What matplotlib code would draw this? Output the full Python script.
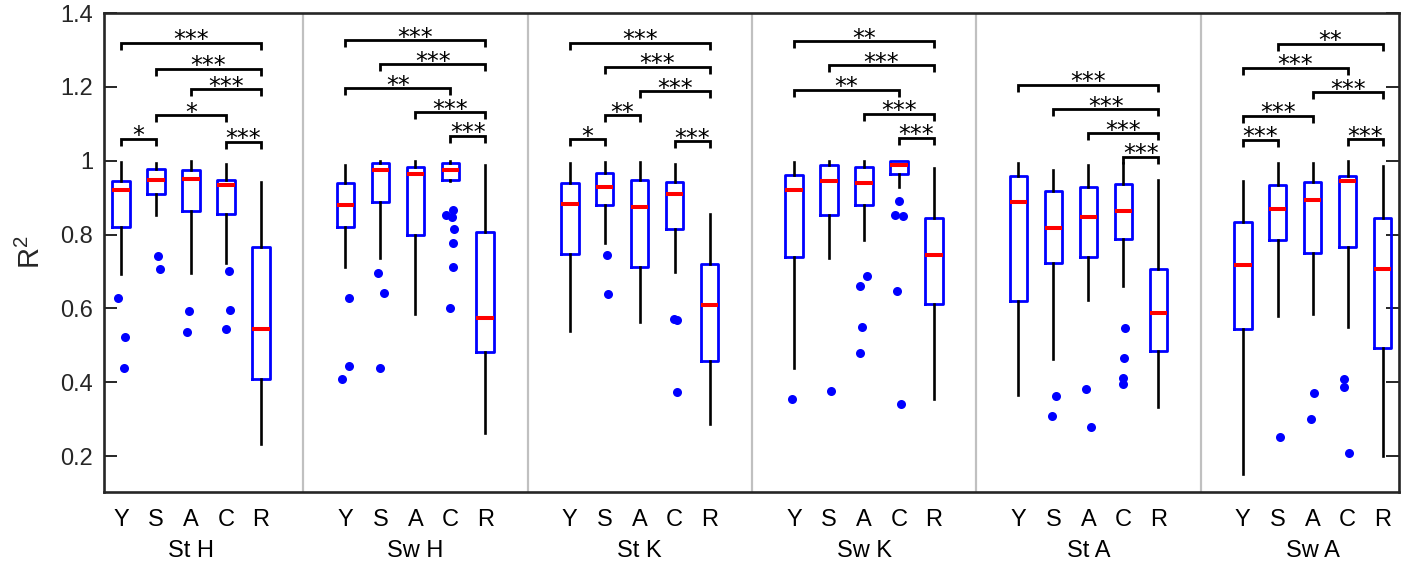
import matplotlib
matplotlib.use('Agg')
import matplotlib.pyplot as plt
from matplotlib.ticker import FixedLocator, FuncFormatter
from matplotlib.transforms import blended_transform_factory

plt.rcParams['font.family'] = ['Liberation Sans', 'DejaVu Sans']
plt.rcParams['mathtext.fontset'] = 'custom'
plt.rcParams['mathtext.rm'] = 'Liberation Sans'
plt.rcParams['mathtext.it'] = 'Liberation Sans'

groups = ['St H', 'Sw H', 'St K', 'Sw K', 'St A', 'Sw A']
conditions = ['Y', 'S', 'A', 'C', 'R']

# box statistics per group, order Y, S, A, C, R
whisker_hi = [
    [0.996, 0.994, 0.998, 0.990, 0.942],
    [0.989, 1.000, 1.000, 1.000, 0.989],
    [0.993, 0.996, 0.996, 0.990, 0.857],
    [0.996, 1.000, 1.000, 1.000, 0.979],
    [0.995, 0.975, 0.988, 0.995, 0.948],
    [0.945, 0.994, 0.994, 1.000, 0.986],
]
q3 = [
    [0.946, 0.977, 0.976, 0.948, 0.767],
    [0.940, 0.994, 0.983, 0.995, 0.806],
    [0.939, 0.967, 0.949, 0.942, 0.720],
    [0.961, 0.989, 0.983, 0.998, 0.845],
    [0.958, 0.918, 0.930, 0.938, 0.708],
    [0.833, 0.934, 0.943, 0.959, 0.845],
]
median = [
    [0.921, 0.948, 0.951, 0.933, 0.544],
    [0.881, 0.974, 0.964, 0.974, 0.575],
    [0.883, 0.930, 0.874, 0.910, 0.609],
    [0.920, 0.946, 0.941, 0.988, 0.744],
    [0.889, 0.819, 0.848, 0.864, 0.588],
    [0.719, 0.870, 0.893, 0.944, 0.707],
]
q1 = [
    [0.820, 0.910, 0.863, 0.856, 0.410],
    [0.820, 0.888, 0.798, 0.948, 0.481],
    [0.748, 0.881, 0.713, 0.816, 0.457],
    [0.738, 0.852, 0.879, 0.963, 0.613],
    [0.619, 0.724, 0.738, 0.789, 0.484],
    [0.545, 0.784, 0.750, 0.767, 0.494],
]
whisker_lo = [
    [0.694, 0.854, 0.697, 0.722, 0.234],
    [0.713, 0.736, 0.584, 0.944, 0.262],
    [0.538, 0.777, 0.563, 0.700, 0.288],
    [0.440, 0.737, 0.784, 0.930, 0.356],
    [0.365, 0.463, 0.624, 0.661, 0.332],
    [0.153, 0.579, 0.585, 0.551, 0.201],
]
outliers = [
    [[0.629, 0.523, 0.440], [0.742, 0.706], [0.593, 0.537], [0.702, 0.597, 0.545], []],
    [[0.627, 0.445, 0.408], [0.695, 0.643, 0.440], [], [0.867, 0.853, 0.847, 0.816, 0.777, 0.713, 0.602], []],
    [[], [0.745, 0.640], [], [0.572, 0.568, 0.375], []],
    [[0.354], [0.377], [0.687, 0.661, 0.550, 0.479], [0.892, 0.854, 0.849, 0.648, 0.341], []],
    [[], [0.364, 0.310], [0.383, 0.278], [0.548, 0.465, 0.411, 0.395], []],
    [[], [0.253], [0.372, 0.300], [0.408, 0.386, 0.208], []],
]
# small horizontal jitter of outliers (in box-spacing units)
outlier_jitter = [
    [[-0.09, 0.11, 0.09], [0.06, 0.11], [-0.06, -0.11], [0.09, 0.11, 0.0], []],
    [[0.09, 0.11, -0.11], [-0.08, 0.09, 0.0], [], [0.09, -0.12, 0.05, 0.11, 0.08, 0.09, -0.02], []],
    [[], [0.06, 0.09], [], [-0.03, 0.06, 0.06], []],
    [[-0.06], [0.06], [0.09, -0.11, -0.05, -0.12], [0.0, -0.12, 0.12, -0.05, 0.05], []],
    [[], [0.07, -0.03], [-0.08, 0.08], [0.06, 0.03, -0.02, 0.0], []],
    [[], [0.06], [0.04, -0.06], [-0.09, -0.09, 0.03], []],
]
# significance brackets: (from, to, level, label)
brackets = [
    [(0, 4, 1.319, '***'), (1, 4, 1.249, '***'), (2, 4, 1.193, '***'),
     (1, 3, 1.124, '*'), (0, 1, 1.060, '*'), (3, 4, 1.052, '***')],
    [(0, 4, 1.326, '***'), (1, 4, 1.262, '***'), (0, 3, 1.197, '**'),
     (2, 4, 1.131, '***'), (3, 4, 1.068, '***')],
    [(0, 4, 1.320, '***'), (1, 4, 1.255, '***'), (2, 4, 1.189, '***'),
     (1, 2, 1.124, '**'), (0, 1, 1.059, '*'), (3, 4, 1.053, '***')],
    [(0, 4, 1.324, '**'), (1, 4, 1.258, '***'), (0, 3, 1.192, '**'),
     (2, 4, 1.127, '***'), (3, 4, 1.062, '***')],
    [(0, 4, 1.206, '***'), (1, 4, 1.140, '***'), (2, 4, 1.075, '***'),
     (3, 4, 1.011, '***')],
    [(1, 4, 1.317, '**'), (0, 3, 1.252, '***'), (2, 4, 1.186, '***'),
     (0, 2, 1.122, '***'), (0, 1, 1.057, '***'), (3, 4, 1.059, '***')],
]
yticks = [0.2, 0.4, 0.6, 0.8, 1.0, 1.2, 1.4]

GROUP_STEP = 6.42
dark = '#262626'

fig = plt.figure(figsize=(14.13, 5.63), dpi=100)
ax = fig.add_axes([104 / 1413, 71 / 563, 1295 / 1413, 479 / 563])

positions = []
stats = []
for g in range(len(groups)):
    for k in range(len(conditions)):
        positions.append(g * GROUP_STEP + k)
        stats.append(dict(med=median[g][k], q1=q1[g][k], q3=q3[g][k],
                          whislo=whisker_lo[g][k], whishi=whisker_hi[g][k],
                          fliers=[]))

ax.bxp(stats, positions=positions, widths=0.5, showcaps=False,
       showfliers=False, patch_artist=False,
       boxprops=dict(color='#0000ff', linewidth=2.0),
       whiskerprops=dict(color='black', linewidth=1.9),
       medianprops=dict(color='#ff0000', linewidth=2.9, solid_capstyle='butt'),
       manage_ticks=False, zorder=3)

for g in range(len(groups)):
    for k in range(len(conditions)):
        vals = outliers[g][k]
        if vals:
            xs = [g * GROUP_STEP + k + dx for dx in outlier_jitter[g][k]]
            ax.plot(xs, vals, 'o', color='#0000ff', markersize=6.5,
                    markeredgewidth=0, zorder=4)

tick_len = 0.019
for g in range(len(groups)):
    for i, j, lev, lab in brackets[g]:
        x0 = g * GROUP_STEP + i
        x1 = g * GROUP_STEP + j
        ax.plot([x0, x0, x1, x1], [lev - tick_len, lev, lev, lev - tick_len],
                color='black', linewidth=2.0, solid_joinstyle='miter',
                solid_capstyle='butt', zorder=5)
        ax.annotate(lab, ((x0 + x1) / 2, lev), xytext=(0, -3.3),
                    textcoords='offset points', ha='center', va='baseline',
                    fontsize=17, family='DejaVu Sans', color='black')

# group separators
for g in range(len(groups) - 1):
    xs = g * GROUP_STEP + 4 + (GROUP_STEP - 4) / 2
    ax.axvline(xs, color='#c0c0c0', linewidth=1.6, zorder=1)

ax.set_xlim(-0.49, (len(groups) - 1) * GROUP_STEP + 4 + 0.47)
ax.set_ylim(0.103, 1.4)

ax.yaxis.set_major_locator(FixedLocator(yticks))
ax.yaxis.set_major_formatter(FuncFormatter(lambda v, p: ('%g' % round(v, 2))))
ax.tick_params(axis='y', direction='in', length=9.5, width=1.4, colors=dark,
               labelsize=17, right=True, left=True, pad=8)
ax.tick_params(axis='y', labelcolor=dark)

ax.set_xticks(positions)
ax.set_xticklabels(conditions * len(groups))
ax.tick_params(axis='x', length=0, labelsize=17, pad=12, labelcolor='black')

trans = blended_transform_factory(ax.transData, ax.transAxes)
for g, name in enumerate(groups):
    ax.text(g * GROUP_STEP + 2, -0.123, name, transform=trans, ha='center',
            va='center', fontsize=17, color='black')

for side in ['left', 'right', 'top', 'bottom']:
    ax.spines[side].set_color(dark)
    ax.spines[side].set_linewidth(1.9)

ax.set_ylabel('R$^{2}$', fontsize=21, color=dark, labelpad=10)

fig.savefig('out.png', dpi=100)
